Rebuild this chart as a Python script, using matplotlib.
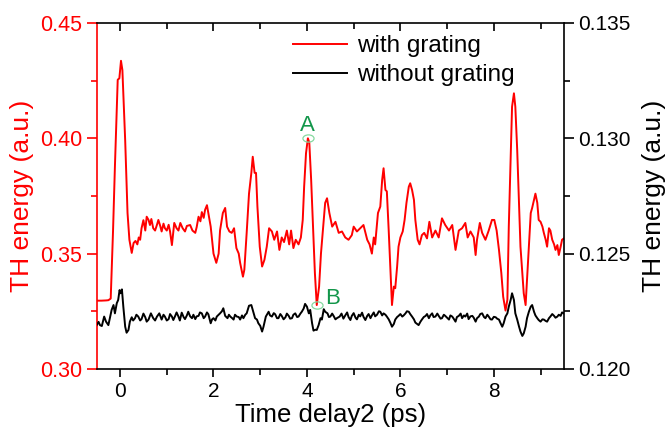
import matplotlib
matplotlib.use("Agg")
import matplotlib.pyplot as plt
import numpy as np
from matplotlib.path import Path
from matplotlib.ticker import MultipleLocator

plt.rcParams['font.family'] = ['Liberation Sans', 'DejaVu Sans']

# with grating (left axis)
red_t = [-0.50, -0.40, -0.30, -0.25, -0.20, -0.15, -0.11, -0.05, -0.015, 0.02, 0.05, 0.11, 0.16, 0.20,
         0.25, 0.29, 0.33, 0.37, 0.40, 0.43, 0.46, 0.50, 0.54, 0.57, 0.61, 0.64, 0.67, 0.71, 0.75, 0.79,
         0.82, 0.86, 0.89, 0.93, 0.96, 1.00, 1.04, 1.07, 1.11, 1.16, 1.21, 1.25, 1.29, 1.34, 1.39, 1.43,
         1.50, 1.55, 1.61, 1.64, 1.68, 1.72, 1.75, 1.79, 1.82, 1.86, 1.89, 1.94, 2.00, 2.06, 2.11, 2.14,
         2.20, 2.25, 2.29, 2.34, 2.39, 2.44, 2.49, 2.54, 2.57, 2.63, 2.66, 2.71, 2.76, 2.81, 2.84, 2.88,
         2.91, 2.94, 2.99, 3.04, 3.09, 3.14, 3.19, 3.25, 3.30, 3.36, 3.41, 3.46, 3.51, 3.57, 3.62, 3.66,
         3.71, 3.76, 3.82, 3.87, 3.91, 3.94, 3.98, 4.02, 4.05, 4.09, 4.13, 4.17, 4.21, 4.26, 4.30, 4.36,
         4.39, 4.43, 4.48, 4.54, 4.61, 4.68, 4.75, 4.82, 4.89, 4.96, 5.00, 5.07, 5.14, 5.21, 5.29, 5.34,
         5.39, 5.43, 5.46, 5.52, 5.57, 5.61, 5.64, 5.68, 5.71, 5.75, 5.79, 5.82, 5.86, 5.89, 5.93, 5.96,
         6.00, 6.05, 6.09, 6.13, 6.18, 6.21, 6.25, 6.29, 6.32, 6.37, 6.41, 6.46, 6.51, 6.57, 6.62, 6.68,
         6.75, 6.82, 6.89, 6.96, 7.04, 7.11, 7.18, 7.25, 7.32, 7.39, 7.44, 7.50, 7.57, 7.61, 7.64, 7.70,
         7.75, 7.82, 7.89, 7.96, 8.01, 8.06, 8.11, 8.16, 8.20, 8.25, 8.29, 8.32, 8.36, 8.39, 8.43, 8.46,
         8.50, 8.54, 8.57, 8.61, 8.64, 8.68, 8.71, 8.75, 8.79, 8.82, 8.86, 8.89, 8.93, 8.96, 9.00, 9.04,
         9.07, 9.11, 9.14, 9.18, 9.21, 9.25, 9.29, 9.32, 9.36, 9.39, 9.43, 9.46, 9.50]
red_v = [0.3296, 0.3296, 0.3297, 0.3298, 0.3305, 0.3600, 0.3877, 0.4254, 0.4260, 0.4336, 0.4296, 0.3990,
         0.3676, 0.3560, 0.3503, 0.3546, 0.3555, 0.3540, 0.3570, 0.3560, 0.3610, 0.3645, 0.3600, 0.3660,
         0.3646, 0.3624, 0.3650, 0.3610, 0.3600, 0.3625, 0.3646, 0.3620, 0.3596, 0.3630, 0.3610, 0.3600,
         0.3625, 0.3596, 0.3537, 0.3633, 0.3610, 0.3600, 0.3633, 0.3610, 0.3596, 0.3620, 0.3624, 0.3600,
         0.3590, 0.3615, 0.3660, 0.3640, 0.3680, 0.3655, 0.3690, 0.3710, 0.3676, 0.3617, 0.3500, 0.3460,
         0.3500, 0.3600, 0.3676, 0.3698, 0.3617, 0.3596, 0.3590, 0.3610, 0.3524, 0.3500, 0.3460, 0.3400,
         0.3430, 0.3590, 0.3760, 0.3850, 0.3920, 0.3850, 0.3850, 0.3704, 0.3530, 0.3444, 0.3473, 0.3530,
         0.3610, 0.3596, 0.3560, 0.3596, 0.3516, 0.3570, 0.3550, 0.3600, 0.3540, 0.3600, 0.3524, 0.3560,
         0.3540, 0.3570, 0.3646, 0.3790, 0.3935, 0.4000, 0.3982, 0.3820, 0.3617, 0.3416, 0.3277, 0.3357,
         0.3500, 0.3646, 0.3720, 0.3740, 0.3676, 0.3617, 0.3638, 0.3590, 0.3596, 0.3570, 0.3560, 0.3580,
         0.3617, 0.3596, 0.3610, 0.3624, 0.3560, 0.3540, 0.3500, 0.3570, 0.3540, 0.3676, 0.3704, 0.3820,
         0.3870, 0.3776, 0.3770, 0.3600, 0.3416, 0.3277, 0.3357, 0.3350, 0.3444, 0.3530, 0.3570, 0.3596,
         0.3646, 0.3720, 0.3790, 0.3805, 0.3776, 0.3733, 0.3646, 0.3560, 0.3540, 0.3580, 0.3590, 0.3566,
         0.3638, 0.3570, 0.3600, 0.3570, 0.3653, 0.3624, 0.3600, 0.3624, 0.3516, 0.3600, 0.3610, 0.3633,
         0.3570, 0.3596, 0.3570, 0.3494, 0.3560, 0.3633, 0.3590, 0.3560, 0.3600, 0.3646, 0.3646, 0.3600,
         0.3516, 0.3416, 0.3313, 0.3253, 0.3300, 0.3617, 0.3920, 0.4137, 0.4195, 0.4137, 0.3950, 0.3704,
         0.3530, 0.3416, 0.3328, 0.3277, 0.3386, 0.3530, 0.3676, 0.3698, 0.3733, 0.3760, 0.3720, 0.3646,
         0.3638, 0.3617, 0.3590, 0.3560, 0.3530, 0.3610, 0.3600, 0.3560, 0.3540, 0.3516, 0.3537, 0.3494,
         0.3530, 0.3560, 0.3566]

# without grating (right axis)
black_t = [-0.50, -0.46, -0.43, -0.39, -0.34, -0.30, -0.25, -0.21, -0.18, -0.14, -0.11, -0.07, -0.04,
           -0.01, 0.01, 0.04, 0.07, 0.11, 0.14, 0.18, 0.21, 0.25, 0.28, 0.32, 0.35, 0.39, 0.43, 0.46, 0.50,
           0.54, 0.57, 0.61, 0.66, 0.71, 0.75, 0.79, 0.84, 0.89, 0.93, 0.96, 1.00, 1.04, 1.07, 1.11, 1.14,
           1.18, 1.21, 1.25, 1.28, 1.32, 1.36, 1.39, 1.43, 1.46, 1.50, 1.54, 1.57, 1.61, 1.64, 1.68, 1.71,
           1.75, 1.79, 1.82, 1.86, 1.89, 1.94, 1.97, 2.00, 2.04, 2.07, 2.11, 2.14, 2.18, 2.21, 2.25, 2.30,
           2.33, 2.36, 2.40, 2.43, 2.46, 2.50, 2.54, 2.57, 2.61, 2.64, 2.68, 2.71, 2.76, 2.81, 2.84, 2.89,
           2.93, 2.96, 3.00, 3.04, 3.07, 3.12, 3.18, 3.21, 3.25, 3.29, 3.32, 3.36, 3.39, 3.43, 3.46, 3.50,
           3.54, 3.57, 3.61, 3.64, 3.68, 3.71, 3.75, 3.79, 3.82, 3.86, 3.89, 3.93, 3.96, 4.00, 4.04, 4.07,
           4.11, 4.14, 4.18, 4.21, 4.25, 4.29, 4.32, 4.36, 4.39, 4.44, 4.47, 4.50, 4.54, 4.57, 4.61, 4.64,
           4.70, 4.74, 4.78, 4.82, 4.86, 4.89, 4.93, 4.96, 5.00, 5.04, 5.07, 5.11, 5.14, 5.18, 5.21, 5.25,
           5.29, 5.32, 5.36, 5.39, 5.43, 5.46, 5.50, 5.54, 5.57, 5.61, 5.64, 5.68, 5.71, 5.75, 5.79, 5.82,
           5.86, 5.89, 5.93, 5.96, 6.00, 6.04, 6.07, 6.11, 6.14, 6.18, 6.21, 6.25, 6.29, 6.32, 6.36, 6.39,
           6.43, 6.46, 6.50, 6.54, 6.57, 6.61, 6.64, 6.68, 6.71, 6.75, 6.79, 6.82, 6.86, 6.89, 6.93, 6.96,
           7.00, 7.04, 7.07, 7.11, 7.14, 7.18, 7.21, 7.25, 7.29, 7.32, 7.36, 7.39, 7.43, 7.46, 7.50, 7.54,
           7.57, 7.61, 7.64, 7.68, 7.71, 7.75, 7.79, 7.82, 7.86, 7.89, 7.93, 7.96, 8.00, 8.04, 8.07, 8.11,
           8.14, 8.18, 8.21, 8.25, 8.29, 8.32, 8.36, 8.39, 8.43, 8.46, 8.50, 8.54, 8.57, 8.61, 8.64, 8.68,
           8.71, 8.75, 8.79, 8.82, 8.86, 8.89, 8.93, 8.96, 9.00, 9.04, 9.07, 9.11, 9.14, 9.18, 9.21, 9.25,
           9.29, 9.32, 9.36, 9.39, 9.43, 9.46, 9.50]
black_v = [0.12190, 0.12204, 0.12190, 0.12186, 0.12227, 0.12205, 0.12190, 0.12227, 0.12256, 0.12277,
           0.12241, 0.12285, 0.12299, 0.12342, 0.12328, 0.12345, 0.12270, 0.12183, 0.12157, 0.12169,
           0.12205, 0.12224, 0.12210, 0.12220, 0.12235, 0.12227, 0.12210, 0.12216, 0.12240, 0.12224,
           0.12205, 0.12214, 0.12241, 0.12220, 0.12210, 0.12227, 0.12241, 0.12214, 0.12235, 0.12227,
           0.12210, 0.12216, 0.12238, 0.12227, 0.12212, 0.12230, 0.12245, 0.12227, 0.12210, 0.12244,
           0.12225, 0.12216, 0.12232, 0.12248, 0.12228, 0.12220, 0.12235, 0.12216, 0.12228, 0.12230,
           0.12245, 0.12241, 0.12220, 0.12227, 0.12245, 0.12237, 0.12198, 0.12215, 0.12220, 0.12210,
           0.12227, 0.12235, 0.12241, 0.12250, 0.12263, 0.12230, 0.12220, 0.12235, 0.12227, 0.12220,
           0.12214, 0.12235, 0.12227, 0.12225, 0.12214, 0.12232, 0.12220, 0.12235, 0.12241, 0.12274,
           0.12277, 0.12256, 0.12220, 0.12214, 0.12198, 0.12187, 0.12162, 0.12183, 0.12227, 0.12248,
           0.12232, 0.12227, 0.12242, 0.12237, 0.12220, 0.12220, 0.12238, 0.12230, 0.12215, 0.12224,
           0.12240, 0.12230, 0.12218, 0.12220, 0.12235, 0.12241, 0.12225, 0.12227, 0.12240, 0.12248,
           0.12262, 0.12282, 0.12270, 0.12241, 0.12256, 0.12198, 0.12166, 0.12170, 0.12169, 0.12190,
           0.12220, 0.12214, 0.12259, 0.12248, 0.12241, 0.12225, 0.12227, 0.12240, 0.12230, 0.12215,
           0.12220, 0.12227, 0.12240, 0.12218, 0.12232, 0.12245, 0.12225, 0.12212, 0.12230, 0.12242,
           0.12222, 0.12215, 0.12235, 0.12228, 0.12244, 0.12226, 0.12212, 0.12230, 0.12238, 0.12220,
           0.12232, 0.12245, 0.12228, 0.12235, 0.12250, 0.12248, 0.12232, 0.12241, 0.12235, 0.12227,
           0.12215, 0.12198, 0.12183, 0.12195, 0.12214, 0.12225, 0.12230, 0.12238, 0.12227, 0.12232,
           0.12241, 0.12250, 0.12248, 0.12238, 0.12227, 0.12215, 0.12201, 0.12195, 0.12190, 0.12205,
           0.12214, 0.12225, 0.12230, 0.12238, 0.12220, 0.12232, 0.12241, 0.12225, 0.12227, 0.12240,
           0.12230, 0.12218, 0.12220, 0.12235, 0.12230, 0.12222, 0.12214, 0.12232, 0.12227, 0.12218,
           0.12205, 0.12225, 0.12230, 0.12240, 0.12220, 0.12232, 0.12227, 0.12240, 0.12216, 0.12228,
           0.12230, 0.12222, 0.12205, 0.12220, 0.12227, 0.12238, 0.12241, 0.12225, 0.12220, 0.12235,
           0.12227, 0.12215, 0.12214, 0.12226, 0.12224, 0.12218, 0.12214, 0.12200, 0.12183, 0.12198,
           0.12227, 0.12241, 0.12270, 0.12299, 0.12328, 0.12299, 0.12241, 0.12214, 0.12183, 0.12162,
           0.12143, 0.12154, 0.12183, 0.12220, 0.12248, 0.12270, 0.12277, 0.12248, 0.12232, 0.12220,
           0.12212, 0.12205, 0.12215, 0.12214, 0.12208, 0.12205, 0.12220, 0.12227, 0.12238, 0.12230,
           0.12222, 0.12227, 0.12235, 0.12230, 0.12245, 0.12241]

# marked points on the red curve
mark_labels = ['A', 'B']
mark_t = [4.02, 4.21]
mark_v = [0.4000, 0.3277]

red = '#ff0000'
green = '#12964a'

fig = plt.figure(figsize=(6.65, 4.32), dpi=100)
ax = fig.add_axes([0.1454, 0.146, 0.7026, 0.8008])
ax2 = ax.twinx()

l1, = ax.plot(red_t, red_v, color=red, lw=1.4)
l2, = ax2.plot(black_t, black_v, color='black', lw=1.4)

# small elliptical open markers at A and B
circ = Path.unit_circle()
ell = Path(circ.vertices * np.array([1.0, 0.65]), circ.codes)
ax.plot(mark_t, mark_v, ls='none', marker=ell, ms=8, mfc='none', mec='#86d9a0', mew=0.9)
ax.text(mark_t[0] - 0.02, mark_v[0] + 0.0055, mark_labels[0], color=green, fontsize=16,
        ha='center', va='center')
ax.text(mark_t[1] + 0.17, mark_v[1] + 0.0028, mark_labels[1], color=green, fontsize=16,
        ha='left', va='center')

ax.set_xlim(-0.5, 9.5)
ax.set_ylim(0.30, 0.45)
ax2.set_ylim(0.120, 0.135)

ax.xaxis.set_major_locator(MultipleLocator(2))
ax.xaxis.set_minor_locator(MultipleLocator(1))
ax.yaxis.set_major_locator(MultipleLocator(0.05))
ax.yaxis.set_minor_locator(MultipleLocator(0.025))
ax2.yaxis.set_major_locator(MultipleLocator(0.005))
ax2.yaxis.set_minor_locator(MultipleLocator(0.0025))
ax.yaxis.set_major_formatter(plt.FormatStrFormatter('%.2f'))
ax2.yaxis.set_major_formatter(plt.FormatStrFormatter('%.3f'))

ax.tick_params(axis='x', which='both', direction='out', top=True, labelsize=15, width=1.2, colors='black')
ax.tick_params(axis='x', which='major', length=6)
ax.tick_params(axis='x', which='minor', length=4)
ax.tick_params(axis='y', which='both', direction='out', colors=red, labelsize=15.5, width=1.2)
ax.tick_params(axis='y', which='major', length=7)
ax.tick_params(axis='y', which='minor', length=4)
ax2.tick_params(axis='y', which='both', direction='out', labelsize=15, width=1.2)
ax2.tick_params(axis='y', which='major', length=7)
ax2.tick_params(axis='y', which='minor', length=4)
# top ticks point into the frame
for t in ax.xaxis.get_ticklines(minor=True)[1::2] + ax.xaxis.get_ticklines()[1::2]:
    t.set_marker(3)

ax.spines['left'].set_color(red)
ax.spines['right'].set_visible(False)
ax2.spines['left'].set_visible(False)
ax2.spines['top'].set_visible(False)
ax2.spines['bottom'].set_visible(False)
for s in ['left', 'bottom', 'top']:
    ax.spines[s].set_linewidth(1.2)
ax2.spines['right'].set_linewidth(1.2)

ax.set_xlabel('Time delay2 (ps)', fontsize=18.5, labelpad=1)
ax.set_ylabel('TH energy (a.u.)', fontsize=19, color=red, labelpad=4)
ax2.set_ylabel('TH energy (a.u.)', fontsize=19, labelpad=8)

ax2.legend([l1, l2], ['with grating', 'without grating'], loc='upper left',
           bbox_to_anchor=(0.395, 1.0), frameon=False, fontsize=17.5, handlelength=2.2,
           handletextpad=0.4, labelspacing=0.3, borderaxespad=0.1)

fig.savefig('out.png', dpi=100)
